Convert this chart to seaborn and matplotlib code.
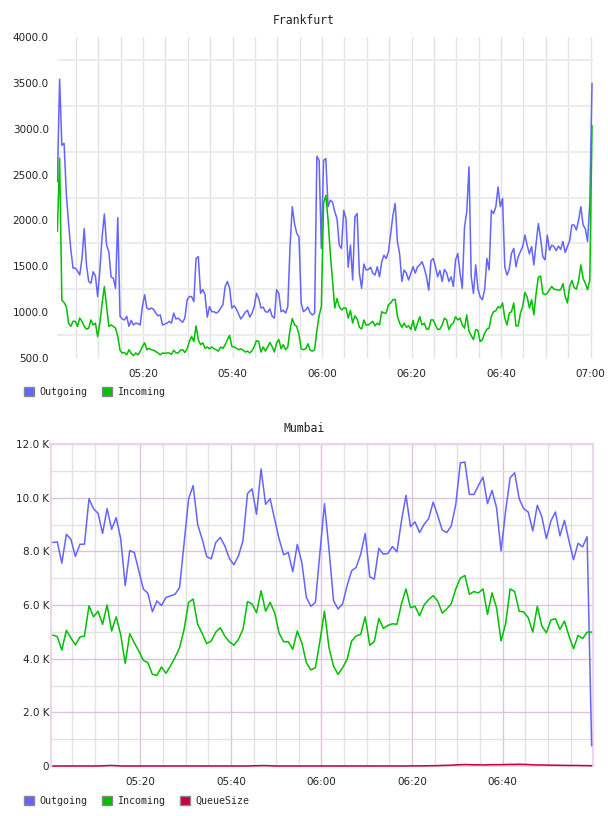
import matplotlib
matplotlib.use("Agg")
import matplotlib.pyplot as plt
import matplotlib.dates as mdates
from matplotlib.ticker import MultipleLocator, FixedLocator, FuncFormatter
from matplotlib.patches import Patch
import numpy as np
import pandas as pd
import seaborn as sns

# Frankfurt, 30 s samples
fra_out = [
    2420, 3540, 2820, 2840, 2290, 1970, 1685, 1480, 1480, 1450,
    1405, 1585, 1910, 1515, 1335, 1315, 1440, 1395, 1170, 1460,
    1820, 2070, 1730, 1660, 1385, 1370, 1260, 2030, 955, 925,
    915, 955, 845, 910, 860, 880, 875, 860, 1060, 1190,
    1045, 1030, 1045, 1030, 990, 960, 970, 860, 870, 880,
    900, 880, 990, 925, 935, 910, 890, 935, 1135, 1170,
    1170, 1115, 1585, 1605, 1205, 1245, 1190, 945, 1060, 1005,
    1005, 990, 1005, 1045, 1080, 1280, 1335, 1260, 1045, 1070,
    1035, 980, 925, 960, 1000, 1020, 945, 990, 1060, 1205,
    1150, 1045, 1055, 1005, 1000, 1035, 955, 935, 1245, 1205,
    1005, 1020, 990, 1060, 1715, 2150, 1965, 1860, 1820, 1100,
    1005, 1025, 1055, 995, 970, 990, 2700, 2655, 1695, 2655,
    2675, 2150, 2220, 2200, 2095, 2020, 1730, 1695, 2110, 2020,
    1490, 1730, 1350, 2040, 2075, 1425, 1260, 1525, 1460, 1465,
    1490, 1425, 1405, 1495, 1385, 1550, 1620, 1585, 1660, 1860,
    2055, 2185, 1770, 1635, 1335, 1460, 1425, 1350, 1425, 1495,
    1425, 1495, 1515, 1550, 1480, 1385, 1240, 1560, 1585, 1495,
    1385, 1455, 1335, 1465, 1430, 1335, 1385, 1280, 1570, 1640,
    1425, 1260, 1930, 2095, 2585, 1385, 1205, 1515, 1250, 1165,
    1135, 1245, 1585, 1460, 2110, 2075, 2150, 2365, 2150, 2240,
    1495, 1405, 1465, 1640, 1695, 1495, 1605, 1660, 1715, 1840,
    1730, 1635, 1715, 1515, 1750, 1965, 1805, 1605, 1570, 1840,
    1675, 1730, 1715, 1670, 1720, 1685, 1770, 1650, 1715, 1780,
    1950, 1950, 1895, 2005, 2150, 1950, 1910, 1770, 2185, 3495,
]
fra_in = [
    1880, 2680, 1130, 1105, 1060, 880, 845, 900, 900, 845,
    935, 900, 845, 815, 825, 915, 860, 880, 735, 880,
    1100, 1280, 1060, 845, 860, 845, 825, 735, 585, 555,
    560, 535, 590, 550, 525, 555, 535, 570, 625, 665,
    590, 605, 590, 585, 570, 555, 535, 555, 550, 555,
    555, 540, 585, 555, 555, 585, 590, 560, 600, 680,
    735, 680, 850, 700, 645, 665, 605, 620, 600, 620,
    600, 590, 575, 620, 605, 645, 700, 745, 625, 620,
    605, 590, 600, 585, 565, 575, 555, 580, 625, 690,
    680, 565, 620, 575, 620, 670, 625, 565, 665, 700,
    600, 645, 590, 620, 810, 930, 860, 845, 755, 600,
    590, 600, 655, 585, 575, 590, 800, 960, 1060, 2185,
    2275, 2005, 1640, 1335, 1045, 1150, 1060, 1025, 1045, 1045,
    935, 1020, 880, 960, 925, 835, 815, 915, 860, 860,
    880, 900, 850, 880, 860, 1005, 990, 990, 1080, 1100,
    1135, 1140, 955, 880, 835, 880, 835, 850, 810, 910,
    800, 880, 950, 860, 880, 815, 815, 915, 915, 860,
    810, 815, 860, 935, 915, 810, 860, 880, 950, 915,
    935, 860, 825, 970, 790, 745, 700, 810, 800, 680,
    700, 770, 815, 825, 955, 1005, 1015, 1060, 1045, 1100,
    935, 860, 990, 1005, 1100, 850, 850, 990, 1060, 1215,
    1165, 1045, 1135, 970, 1205, 1380, 1395, 1205, 1190, 1205,
    1245, 1280, 1250, 1245, 1240, 1245, 1310, 1170, 1100, 1280,
    1345, 1270, 1250, 1345, 1515, 1370, 1315, 1245, 1345, 3035,
]

# Mumbai, 1 min samples
mum_out = [
    8330, 8350, 7560, 8635, 8450, 7810, 8265, 8265, 9960, 9590,
    9415, 8670, 9590, 8820, 9255, 8475, 6720, 8030, 7955, 7275,
    6595, 6435, 5750, 6150, 5980, 6280, 6340, 6400, 6650, 8300,
    9960, 10450, 9000, 8450, 7800, 7720, 8330, 8520, 8200, 7730,
    7500, 7830, 8390, 10150, 10330, 9380, 11070, 9750, 9960, 9190,
    8450, 7870, 7960, 7240, 8260, 7585, 6285, 5950, 6100, 7955,
    9775, 8080, 6160, 5850, 6040, 6720, 7275, 7400, 7895, 8670,
    7050, 6965, 8115, 7895, 7920, 8180, 7980, 9130, 10085, 8920,
    9095, 8700, 9005, 9215, 9835, 9340, 8795, 8700, 8945, 9750,
    11295, 11330, 10120, 10120, 10455, 10765, 9775, 10270, 9625, 8015,
    9500, 10740, 10925, 9960, 9590, 9465, 8760, 9715, 9290, 8475,
    9130, 9465, 8575, 9155, 8390, 7685, 8300, 8165, 8550, 750,
]
mum_in = [
    4880, 4820, 4320, 5055, 4780, 4510, 4805, 4845, 5970, 5560,
    5770, 5280, 6000, 5030, 5560, 4900, 3825, 4930, 4595, 4285,
    3940, 3850, 3415, 3380, 3690, 3455, 3730, 4040, 4410, 5090,
    6100, 6220, 5280, 4940, 4560, 4660, 4990, 5150, 4840, 4630,
    4500, 4720, 5090, 6125, 6040, 5710, 6530, 5770, 6100, 5710,
    4940, 4630, 4630, 4350, 5030, 4595, 3850, 3580, 3665, 4660,
    5770, 4410, 3725, 3415, 3665, 3975, 4660, 4845, 4905, 5560,
    4500, 4630, 5500, 5130, 5240, 5300, 5280, 6040, 6600, 5900,
    5950, 5600, 6000, 6200, 6350, 6150, 5700, 5850, 6050, 6600,
    7000, 7100, 6400, 6500, 6450, 6600, 5650, 6450, 5900, 4660,
    5300, 6600, 6500, 5770, 5740, 5525, 4990, 5950, 5215, 4965,
    5440, 5490, 5090, 5400, 4845, 4370, 4870, 4745, 4990, 4990,
]
mum_queue = [
    0, 0, 0, 0, 0, 0, 0, 0, 0, 0,
    0, 5, 15, 20, 10, 0, 0, 0, 0, 0,
    0, 0, 0, 0, 0, 0, 0, 0, 0, 0,
    0, 0, 0, 0, 0, 0, 0, 0, 0, 0,
    0, 0, 0, 0, 5, 10, 15, 15, 10, 0,
    0, 0, 0, 0, 0, 0, 0, 0, 0, 0,
    0, 0, 0, 0, 0, 0, 0, 0, 0, 0,
    0, 0, 0, 0, 0, 0, 0, 0, 0, 5,
    5, 5, 5, 10, 10, 15, 20, 25, 30, 40,
    50, 55, 50, 45, 45, 40, 45, 50, 50, 50,
    55, 60, 60, 65, 60, 55, 45, 40, 40, 35,
    30, 30, 25, 25, 20, 20, 20, 15, 15, 10,
]

colors = {"Outgoing": "#6464ff", "Incoming": "#00c000", "QueueSize": "#c8003c"}

sns.set_theme(style="white")
plt.rcParams["font.family"] = ["DejaVu Sans"]

fra_time = pd.date_range("2024-01-01 05:00:50", periods=len(fra_out), freq="30s")
mum_time = pd.date_range("2024-01-01 05:00:40", periods=len(mum_out), freq="min")

fra = pd.DataFrame({"time": fra_time, "Outgoing": fra_out, "Incoming": fra_in})
fra = fra.melt("time", var_name="series", value_name="value")
mum = pd.DataFrame({"time": mum_time, "Outgoing": mum_out,
                    "Incoming": mum_in, "QueueSize": mum_queue})
mum = mum.melt("time", var_name="series", value_name="value")

W, H = 608, 816
fig = plt.figure(figsize=(W / 100, H / 100), dpi=100)
ax1 = fig.add_axes([57 / W, 1 - 358 / H, 536 / W, 321 / H])
ax2 = fig.add_axes([50.5 / W, 1 - 766 / H, 542.5 / W, 322 / H])

sns.lineplot(data=fra, x="time", y="value", hue="series", palette=colors,
             ax=ax1, legend=False, linewidth=1.1)
sns.lineplot(data=mum, x="time", y="value", hue="series", palette=colors,
             ax=ax2, legend=False, linewidth=1.1)
# keep the lines above the frame so the zero-level queue line stays visible
for line in ax2.get_lines():
    line.set_zorder(3)
    line.set_clip_on(False)

day = "2024-01-01 "
ax1.set_xlim(pd.Timestamp(day + "05:00:45"), pd.Timestamp(day + "07:00:33"))
ax2.set_xlim(pd.Timestamp(day + "05:00:10"), pd.Timestamp(day + "06:59:58"))
ax1.set_ylim(500, 4000)
ax2.set_ylim(0, 12000)

for ax in (ax1, ax2):
    ax.set_xlabel("")
    ax.set_ylabel("")
    ax.set_axisbelow(True)
    ax.xaxis.set_major_locator(mdates.MinuteLocator(byminute=[0, 20, 40]))
    ax.xaxis.set_major_formatter(mdates.DateFormatter("%H:%M"))
    ax.xaxis.set_minor_locator(mdates.MinuteLocator(byminute=range(0, 60, 5)))
    ax.tick_params(which="both", length=0, labelsize=7.5, colors="#222222")
    ax.tick_params(axis="x", pad=8)

# Frankfurt: light grey grid, no frame
ax1.yaxis.set_major_locator(MultipleLocator(500))
ax1.yaxis.set_minor_locator(FixedLocator(np.arange(750, 4000, 500)))
ax1.yaxis.set_major_formatter(FuncFormatter(lambda v, p: f"{v:.1f}"))
ax1.tick_params(axis="y", pad=6)
ax1.grid(True, which="both", axis="x", color="#e2e2e2", linewidth=1)
ax1.grid(True, which="minor", axis="y", color="#ececec", linewidth=1.5)
ax1.grid(False, which="major", axis="y")
for s in ax1.spines.values():
    s.set_visible(False)

# Mumbai: purple major grid, grey minor grid, purple frame
ax2.yaxis.set_major_locator(MultipleLocator(2000))
ax2.yaxis.set_minor_locator(MultipleLocator(1000))
ax2.yaxis.set_major_formatter(
    FuncFormatter(lambda v, p: "0" if v == 0 else f"{v / 1000:.1f} K"))
ax2.tick_params(axis="y", pad=1)
ax2.grid(True, which="major", color="#dcc4dc", linewidth=1)
ax2.grid(True, which="minor", color="#e2e2e2", linewidth=1)
for s in ax2.spines.values():
    s.set_color("#ecd6ec")
    s.set_linewidth(1.5)

title_kw = dict(ha="center", va="center", family="DejaVu Sans Mono",
                size=8.3, color="#222222")
fig.text(304 / W, 1 - 20 / H, "Frankfurt", **title_kw)
fig.text(304 / W, 1 - 429 / H, "Mumbai", **title_kw)

leg_kw = dict(loc="center left", frameon=False, borderpad=0, borderaxespad=0,
              handlelength=1.0, handleheight=1.0, handletextpad=0.5,
              columnspacing=1.5, prop={"family": "DejaVu Sans Mono", "size": 7.2})


def handles(names):
    return [Patch(facecolor=colors[n], edgecolor="#888888", linewidth=1, label=n)
            for n in names]


fig.legend(handles=handles(["Outgoing", "Incoming"]), ncol=2,
           bbox_to_anchor=(24 / W, 1 - 392 / H), **leg_kw)
fig.legend(handles=handles(["Outgoing", "Incoming", "QueueSize"]), ncol=3,
           bbox_to_anchor=(24 / W, 1 - 800.5 / H), **leg_kw)

fig.savefig("out.png", dpi=100)
